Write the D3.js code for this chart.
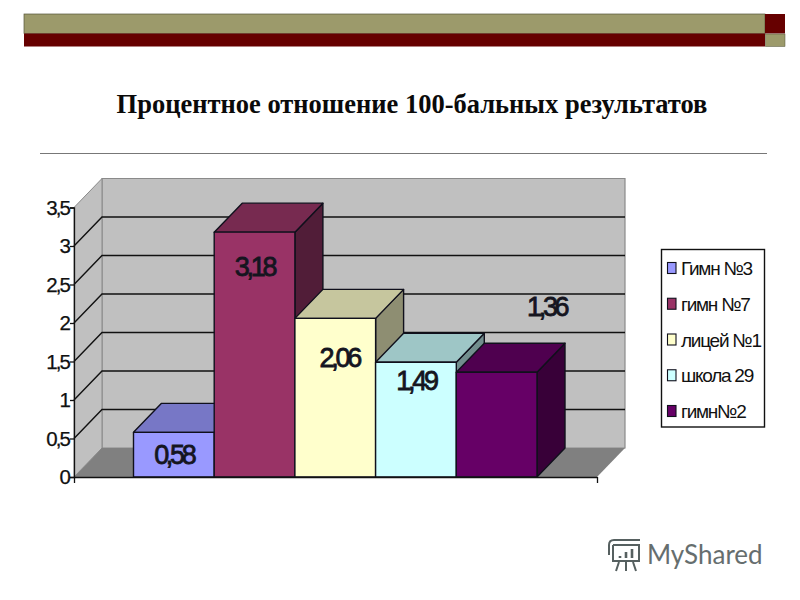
<!DOCTYPE html>
<html>
<head>
<meta charset="utf-8">
<script src="https://cdn.jsdelivr.net/npm/d3@7"></script>
<style>
html,body{margin:0;padding:0;background:#fff}
svg{display:block}
</style>
</head>
<body>
<svg id="c" width="800" height="600"></svg>
<script>
const categories = ["Гимн №3","гимн №7","лицей №1","школа 29","гимн№2"];
const values = [0.58,3.18,2.06,1.49,1.36];
const valueLabels = ["0,58","3,18","2,06","1,49","1,36"];
const yTicks = [0,0.5,1,1.5,2,2.5,3,3.5];
const titleText = "Процентное отношение 100-бальных результатов";
const brandText = "MyShared";

const frontColors = ["#9999ff","#993366","#ffffcc","#ccffff","#660066"];
const topColors   = ["#7777c6","#772a50","#c6c69e","#9ec6c6","#4f004f"];
const sideColors  = ["#555590","#511d38","#8e8e72","#728e8e","#380038"];
const labelNudge  = [[0,32],[0,44],[4,49],[0,28],[50,-56]];

const svg = d3.select("#c");
const y = d3.scaleLinear().domain([0,3.5]).range([477,207.5]);
const x = d3.scaleBand().domain(categories).range([133.5,537]).padding(0);
const floorX = d3.scaleLinear().domain([0,1]).range([74,597]);
const dx = 28, dy = -29;
const poly = p => p.map(d=>d.join(",")).join(" ");

// Slide header
svg.append("rect").attr("x",24).attr("y",14).attr("width",741).attr("height",19.5).attr("fill","#9c9a6b").attr("stroke","#55553a").attr("stroke-width",.7);
svg.append("rect").attr("x",24).attr("y",33.5).attr("width",741).attr("height",13).attr("fill","#660000");
svg.append("rect").attr("x",765).attr("y",14).attr("width",20).attr("height",19.5).attr("fill","#660000");
svg.append("rect").attr("x",765.5).attr("y",34).attr("width",19.5).attr("height",12.5).attr("fill","#9c9a6b").attr("stroke","#55553a").attr("stroke-width",.5);
svg.append("text").attr("x",412).attr("y",112.5).attr("text-anchor","middle")
  .attr("font-family","'Liberation Serif'").attr("font-weight","bold").attr("font-size",26.5).attr("fill","#0a0a0a").text(titleText);
svg.append("line").attr("x1",40).attr("x2",767).attr("y1",153.5).attr("y2",153.5).attr("stroke","#777").attr("stroke-width",1.2);

// Walls and floor
const x0 = floorX(0), x1 = floorX(1), yb = y(0), yt = y(3.5);
svg.append("polygon").attr("points",poly([[x0+dx,yt+dy],[x1+dx,yt+dy],[x1+dx,yb+dy],[x0+dx,yb+dy]])).attr("fill","#c0c0c0").attr("stroke","#8a8a8a").attr("stroke-width",1.2);
svg.append("polygon").attr("points",poly([[x0,yt],[x0+dx,yt+dy],[x0+dx,yb+dy],[x0,yb]])).attr("fill","#c0c0c0").attr("stroke","#8a8a8a").attr("stroke-width",1);
svg.append("polygon").attr("points",poly([[x0,yb],[x0+dx,yb+dy],[x1+dx,yb+dy],[x1,yb]])).attr("fill","#808080");

// Gridlines
const gv = yTicks.filter(v=>v>0 && v<3.5);
svg.append("g").selectAll("path").data(gv).join("path")
  .attr("d",v=>`M${x0},${y(v)}L${x0+dx},${y(v)+dy}L${x1+dx},${y(v)+dy}`)
  .attr("fill","none").attr("stroke","#111").attr("stroke-width",1.4);

// Bars (painter order, left to right)
const bars = svg.append("g").selectAll("g").data(categories).join("g");
const bEdge = {stroke:"#10101c","stroke-width":1.4,"stroke-linejoin":"round"};
function face(sel,pts,fill){
  const p = sel.append("polygon").attr("points",poly(pts)).attr("fill",fill);
  Object.entries(bEdge).forEach(([k,v])=>p.attr(k,v));
}
bars.each(function(c,i){
  const g = d3.select(this), l = x(c), r = l + x.bandwidth(), t = y(values[i]), b = y(0);
  face(g,[[r,t],[r+dx,t+dy],[r+dx,b+dy],[r,b]],sideColors[i]);
  face(g,[[l,t],[l+dx,t+dy],[r+dx,t+dy],[r,t]],topColors[i]);
  face(g,[[l,t],[r,t],[r,b],[l,b]],frontColors[i]);
});

// Value labels
svg.append("g").selectAll("text").data(categories).join("text")
  .attr("x",(c,i)=>x(c)+x.bandwidth()/2+labelNudge[i][0])
  .attr("y",(c,i)=>y(values[i])+labelNudge[i][1])
  .attr("text-anchor","middle")
  .attr("font-family","'Liberation Sans'").attr("font-size",27).attr("letter-spacing",-3.3)
  .attr("fill","#15151f").attr("stroke","#15151f").attr("stroke-width",.8)
  .text((c,i)=>valueLabels[i]);

// Axes
const yAxis = d3.axisLeft(y).tickValues(yTicks).tickSize(4).tickPadding(1).tickFormat(v=>String(v).replace(".",","));
const gy = svg.append("g").attr("transform",`translate(${x0},0)`).call(yAxis);
gy.selectAll("line,path").attr("stroke","#111").attr("stroke-width",1.3);
gy.selectAll("text").attr("font-family","'Liberation Sans'").attr("font-size",20.5).attr("letter-spacing",-1.9).attr("fill","#111").attr("stroke","#111").attr("stroke-width",.25);
const xAxis = d3.axisBottom(floorX).tickValues([0,1]).tickSize(6).tickSizeOuter(0).tickFormat("");
const gx = svg.append("g").attr("transform",`translate(0,${yb})`).call(xAxis);
gx.selectAll("line,path").attr("stroke","#111").attr("stroke-width",1.3);

// Legend
svg.append("rect").attr("x",661.5).attr("y",249.5).attr("width",103).attr("height",177.5).attr("fill","#fff").attr("stroke","#111").attr("stroke-width",1.4);
const ly = d3.scalePoint().domain(categories).range([268,411]);
const lg = svg.append("g").selectAll("g").data(categories).join("g").attr("transform",c=>`translate(0,${ly(c)})`);
lg.append("rect").attr("x",667.5).attr("y",-5.5).attr("width",8.5).attr("height",11).attr("fill",(c,i)=>frontColors[i]).attr("stroke","#10101c").attr("stroke-width",1.1);
lg.append("text").attr("x",681).attr("y",7).attr("font-family","'Liberation Sans'").attr("font-size",19).attr("letter-spacing",-1.25).attr("fill","#111").text(c=>c);

// Watermark
svg.append("text").attr("x",647).attr("y",564).attr("font-family","Lato").attr("font-size",26).attr("fill","#666e6e").text(brandText);
const ic = svg.append("g").attr("fill","none").attr("stroke","#566060").attr("stroke-width",2);
ic.append("path").attr("d","M609,555V545Q609,540 614,540H640");
ic.append("path").attr("d","M613,545H639V561H613V545");
ic.append("path").attr("d","M619,562L616,571M626,562V571M633,562L636,571");
ic.append("path").attr("d","M620,556V558M626,552V558M632,549V558").attr("stroke-width",2.6);
</script>
</body>
</html>
